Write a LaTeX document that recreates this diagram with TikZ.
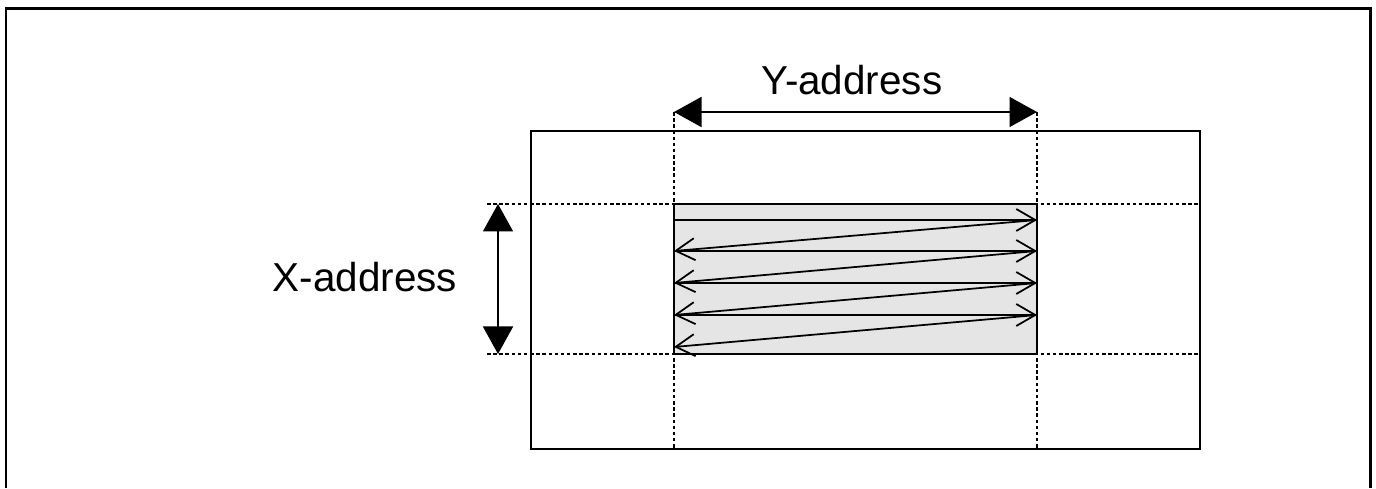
\documentclass[tikz,border=0pt]{standalone}
\usepackage{fontspec}
\setmainfont{Liberation Sans}
\usetikzlibrary{arrows.meta, positioning}

\tikzset{
	frame/.style={line width=1.7pt},
	memory/.style={draw, line width=0.8pt},
	guide/.style={dash pattern=on 2pt off 1.5pt, line width=1.5pt},
	span/.style={{Triangle[length=0.55cm,width=0.6cm]}-{Triangle[length=0.55cm,width=0.6cm]}, line width=0.9pt},
	scan/.style={-{Straight Barb[length=0.38cm,width=0.44cm]}, line width=1pt},
	label/.style={font=\fontsize{23}{27}\selectfont}
}

\begin{document}
\begin{tikzpicture}
	\useasboundingbox (0,0) rectangle (27.52,9.76);

	% outer frame, open at the bottom
	\draw[frame] (0.12,0) -- (0.12,9.58) -- (27.4,9.58) -- (27.4,0);

	% memory array and the selected block
	\draw[memory] (10.62,0.78) rectangle (24.0,7.14);
	\draw[memory, fill=black!10] (13.48,2.68) rectangle (20.74,5.68);

	% guides
	\coordinate (ytop1) at (13.48,7.52);
	\coordinate (ytop2) at (20.74,7.52);
	\coordinate (ybot1) at (13.48,0.78);
	\coordinate (ybot2) at (20.74,0.78);
	\coordinate (xl1) at (9.74,5.68);
	\coordinate (xr1) at (24.0,5.68);
	\coordinate (xl2) at (9.74,2.68);
	\coordinate (xr2) at (24.0,2.68);
	\coordinate (xa1) at (9.96,5.68);
	\coordinate (xa2) at (9.96,2.68);

	\draw[guide] (ytop1) -- (ybot1);
	\draw[guide] (ytop2) -- (ybot2);
	\draw[guide] (xl1) -- (xr1);
	\draw[guide] (xl2) -- (xr2);

	% address spans
	\draw[span] (ytop1) -- (ytop2);
	\draw[span] (xa1) -- (xa2);
	\node[label] (ylabel) at (17.04,8.16) {Y-address};
	\node[label] (xlabel) at (7.3,4.22) {X-address};

	% scan order
	\foreach \i/\yy in {1/5.36, 2/4.74, 3/4.10, 4/3.46, 5/2.82} {
		\coordinate (l\i) at (13.48,\yy);
		\coordinate (r\i) at (20.74,\yy);
	}
	\foreach \i/\j in {1/2, 2/3, 3/4, 4/5} {
		\draw[scan] (l\i) -- (r\i);
		\draw[scan] (r\i) -- (l\j);
	}
\end{tikzpicture}
\end{document}
